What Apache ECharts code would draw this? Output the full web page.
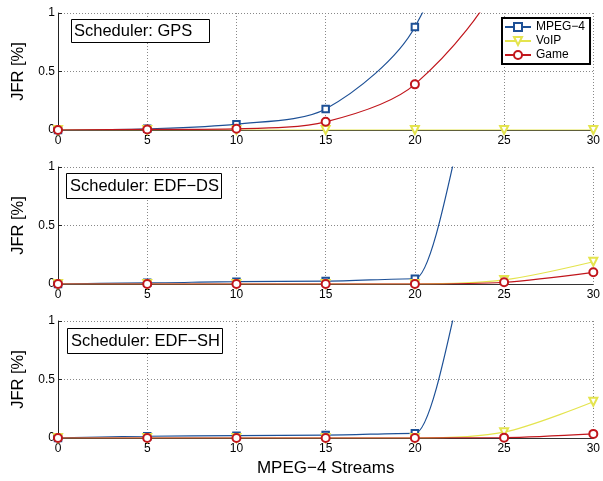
<!DOCTYPE html>
<html><head><meta charset="utf-8">
<script src="https://cdn.jsdelivr.net/npm/echarts@6/dist/echarts.min.js"></script>
<style>html,body{margin:0;padding:0;background:#fff}#c{width:603px;height:481px}</style>
</head><body><div id="c"></div><script>
const xValues = [0, 5, 10, 15, 20, 25, 30];
const panelTitles = ['Scheduler: GPS', 'Scheduler: EDF\u2212DS', 'Scheduler: EDF\u2212SH'];
const seriesNames = ['MPEG\u22124', 'VoIP', 'Game'];
const xAxisTitle = 'MPEG\u22124 Streams';
const yAxisTitle = 'JFR [%]';
// GPS
const gpsMpeg4 = [0, 0.01, 0.05, 0.18, 0.88, 3, 12];
const gpsVoip = [0, 0, 0, 0, 0, 0, 0];
const gpsGame = [0, 0.005, 0.01, 0.07, 0.39, 1.4, 5];
// EDF-DS
const edfdsMpeg4 = [0, 0.01, 0.02, 0.025, 0.045, 2.5, 10];
const edfdsVoip = [0, 0, 0, 0, 0, 0.035, 0.19];
const edfdsGame = [0, 0, 0, 0, 0, 0.015, 0.10];
// EDF-SH
const edfshMpeg4 = [0, 0.015, 0.02, 0.025, 0.04, 2.5, 10];
const edfshVoip = [0, 0, 0, 0, 0, 0.05, 0.31];
const edfshGame = [0, 0, 0, 0, 0, 0.003, 0.035];

const panels = [
  [gpsMpeg4, gpsVoip, gpsGame],
  [edfdsMpeg4, edfdsVoip, edfdsGame],
  [edfshMpeg4, edfshVoip, edfshGame]
];
const colors = ['#1d5096', '#e4e44e', '#c1161c'];
const symbols = ['emptyRect', 'emptyTriangle', 'emptyCircle'];
const symSizes = [6.5, 8, 8];
const symRot = [0, 180, 0];
const tops = [13, 167, 321];
const font = 'Liberation Sans, Arial, Helvetica, sans-serif';

const grids = [], xAxes = [], yAxes = [], series = [], titles = [];
panels.forEach((p, gi) => {
  grids.push({ left: 58, right: 5, top: tops[gi], height: 117 });
  xAxes.push({
    type: 'value', gridIndex: gi, min: 0, max: 30, interval: 5,
    name: gi === 2 ? xAxisTitle : '', nameLocation: 'middle', nameGap: 22,
    nameTextStyle: { fontSize: 17, color: '#000', fontFamily: font },
    axisLine: { show: true, onZero: false, lineStyle: { color: '#333', width: 1 } },
    axisTick: { show: false },
    axisLabel: { fontSize: 12, color: '#000', fontFamily: font, margin: 5 },
    splitLine: { show: true, lineStyle: { color: '#888', type: [1, 2], width: 1 } }
  });
  yAxes.push({
    type: 'value', gridIndex: gi, min: 0, max: 1, interval: 0.5,
    name: yAxisTitle, nameLocation: 'middle', nameGap: 31, nameRotate: 90,
    nameTextStyle: { fontSize: 16.5, color: '#000', fontFamily: font },
    axisLine: { show: true, lineStyle: { color: '#222', width: 1 } },
    axisTick: { show: true, inside: true, length: 4, lineStyle: { color: '#222' } },
    axisLabel: { fontSize: 12, color: '#000', fontFamily: font, margin: 3 },
    splitLine: { show: true, lineStyle: { color: '#888', type: [1, 2], width: 1 } }
  });
  p.forEach((vals, si) => {
    const monotoneX = (si === 0 && gi > 0);
    series.push({
      type: 'line', name: seriesNames[si], xAxisIndex: gi, yAxisIndex: gi,
      data: xValues.map((x, i) => [x, vals[i]]),
      smooth: 0.3, smoothMonotone: monotoneX ? 'x' : undefined,
      clip: true,
      symbol: symbols[si], symbolSize: symSizes[si], symbolRotate: symRot[si],
      showAllSymbol: true,
      lineStyle: { color: colors[si], width: 1.2 },
      itemStyle: { color: colors[si], borderWidth: 1 },
      emphasis: { disabled: true },
      animation: false
    });
  });
});
const titleBoxes = [
  { left: 71, top: 19, padding: [3, 17, 3, 3] },
  { left: 66, top: 173, padding: [4, 3, 4, 4] },
  { left: 67, top: 328, padding: [4, 3, 4, 4] }
];
panelTitles.forEach((t, i) => {
  titles.push(Object.assign({
    text: t, borderColor: '#000', borderWidth: 1, backgroundColor: '#fff',
    textStyle: { fontSize: 16.5, fontWeight: 'normal', color: '#000', fontFamily: font, lineHeight: 18 }
  }, titleBoxes[i]));
});

const chart = echarts.init(document.getElementById('c'), null, { renderer: 'canvas' });
chart.setOption({
  animation: false,
  backgroundColor: '#fff',
  title: titles,
  grid: grids, xAxis: xAxes, yAxis: yAxes, series: series,
  legend: {
    data: seriesNames, orient: 'vertical', left: 502, top: 18,
    backgroundColor: '#fff', borderColor: '#000', borderWidth: 2,
    padding: [3, 5, 3, 2], itemGap: 2, itemWidth: 26, itemHeight: 10,
    textStyle: { fontSize: 12, color: '#000', fontFamily: font },
    selectedMode: false
  }
});
</script></body></html>
